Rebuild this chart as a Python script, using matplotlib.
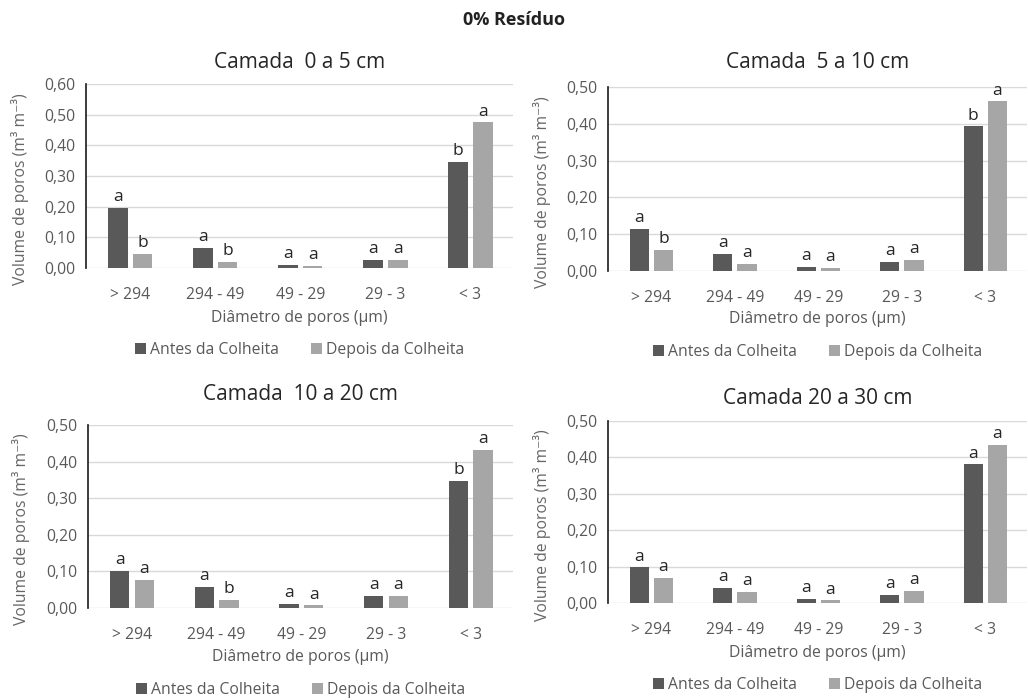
import matplotlib
matplotlib.use('Agg')
import matplotlib.pyplot as plt
import numpy as np
from matplotlib.ticker import FuncFormatter

plt.rcParams['font.family'] = ['Open Sans', 'DejaVu Sans']

categorias = ['> 294', '294 - 49', '49 - 29', '29 - 3', '< 3']
series = ['Antes da Colheita', 'Depois da Colheita']

titulos = ['Camada  0 a 5 cm', 'Camada  5 a 10 cm', 'Camada  10 a 20 cm', 'Camada 20 a 30 cm']

antes_0_5 = [0.196, 0.065, 0.011, 0.026, 0.345]
depois_0_5 = [0.047, 0.021, 0.006, 0.026, 0.475]
letras_antes_0_5 = ['a', 'a', 'a', 'a', 'b']
letras_depois_0_5 = ['b', 'b', 'a', 'a', 'a']

antes_5_10 = [0.114, 0.046, 0.012, 0.024, 0.393]
depois_5_10 = [0.058, 0.020, 0.008, 0.031, 0.461]
letras_antes_5_10 = ['a', 'a', 'a', 'a', 'b']
letras_depois_5_10 = ['b', 'a', 'a', 'a', 'a']

antes_10_20 = [0.102, 0.057, 0.011, 0.034, 0.348]
depois_10_20 = [0.076, 0.023, 0.007, 0.034, 0.432]
letras_antes_10_20 = ['a', 'a', 'a', 'a', 'b']
letras_depois_10_20 = ['a', 'b', 'a', 'a', 'a']

antes_20_30 = [0.098, 0.041, 0.011, 0.022, 0.381]
depois_20_30 = [0.068, 0.030, 0.007, 0.034, 0.434]
letras_antes_20_30 = ['a', 'a', 'a', 'a', 'a']
letras_depois_20_30 = ['a', 'a', 'a', 'a', 'a']

ymax = [0.60, 0.50, 0.50, 0.50]

W, H = 1028, 700
# caixas dos eixos em pixels: esquerda, topo, direita, base
caixas = [(86, 84, 513, 268), (608, 87, 1027, 271), (88, 425, 513, 608), (608, 421, 1027, 603)]
legenda_y = [350, 352, 690, 685]
titulo_y = [62, 62, 395, 399]
xlabel_y = [318, 319, 657, 653]
ylabel_x = [20, 542, 21, 542]

cor_antes = '#595959'
cor_depois = '#a6a6a6'
cinza_txt = '#595959'

dados = [
    (antes_0_5, depois_0_5, letras_antes_0_5, letras_depois_0_5),
    (antes_5_10, depois_5_10, letras_antes_5_10, letras_depois_5_10),
    (antes_10_20, depois_10_20, letras_antes_10_20, letras_depois_10_20),
    (antes_20_30, depois_20_30, letras_antes_20_30, letras_depois_20_30),
]

fig = plt.figure(figsize=(W / 100, H / 100), dpi=100)
fig.text(0.5, 1 - 20 / H, '0% Resíduo', ha='center', va='center', fontsize=13, fontweight='bold', color='#222222')

x = np.arange(len(categorias))
w = 0.23
off = 0.145

for i in range(4):
    l, t, r, b = caixas[i]
    ax = fig.add_axes([l / W, 1 - b / H, (r - l) / W, (b - t) / H])
    a, d, la, ld = dados[i]
    ba = ax.bar(x - off, a, w, color=cor_antes, label=series[0], zorder=3)
    bd = ax.bar(x + off, d, w, color=cor_depois, label=series[1], zorder=3)
    for rect, s in zip(ba, la):
        ax.annotate(s, (rect.get_x() + rect.get_width() / 2, rect.get_height()), xytext=(0, 2),
                    textcoords='offset points', ha='center', va='bottom', fontsize=12.5, color='#262626', annotation_clip=False)
    for rect, s in zip(bd, ld):
        ax.annotate(s, (rect.get_x() + rect.get_width() / 2, rect.get_height()), xytext=(0, 2),
                    textcoords='offset points', ha='center', va='bottom', fontsize=12.5, color='#262626', annotation_clip=False)
    ax.set_xlim(-0.52, 4.5)
    ax.set_ylim(0, ymax[i])
    ax.set_yticks(np.arange(0, ymax[i] + 0.001, 0.1))
    ax.yaxis.set_major_formatter(FuncFormatter(lambda v, p: ('%.2f' % v).replace('.', ',')))
    ax.set_xticks(x)
    ax.set_xticklabels(categorias)
    ax.tick_params(axis='both', length=0, labelsize=11.3, colors=cinza_txt)
    ax.tick_params(axis='x', pad=14)
    ax.tick_params(axis='y', pad=8)
    ax.grid(axis='y', color='#d9d9d9', linewidth=1, zorder=0)
    for s in ['top', 'right', 'bottom']:
        ax.spines[s].set_visible(False)
    ax.spines['left'].set_color('#1a1a1a')
    ax.spines['left'].set_linewidth(1.2)
    cx = (l + r) / 2 / W
    fig.text(cx, 1 - xlabel_y[i] / H, 'Diâmetro de poros (µm)', ha='center', va='center', fontsize=11.3, color=cinza_txt)
    fig.text(ylabel_x[i] / W, 1 - ((t + b) / 2 + 13) / H, 'Volume de poros (m³ m⁻³)', ha='center', va='center',
             rotation=90, fontsize=11.3, color='#666666')
    fig.text(cx, 1 - titulo_y[i] / H, titulos[i], ha='center', va='center', fontsize=15, color='#262626')
    ax.legend(loc='center', bbox_to_anchor=(cx, 1 - legenda_y[i] / H), bbox_transform=fig.transFigure,
              ncol=2, frameon=False, fontsize=11.3, handlelength=0.7, handleheight=0.7, columnspacing=2.0,
              handletextpad=0.3, labelcolor=cinza_txt)

fig.savefig('out.png', dpi=100, facecolor='white')
